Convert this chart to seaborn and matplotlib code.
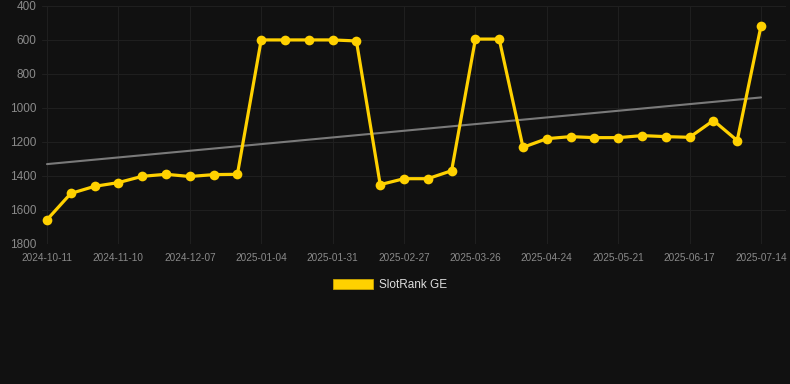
import numpy as np
import pandas as pd
import matplotlib
matplotlib.use("Agg")
import matplotlib.pyplot as plt
from matplotlib.patches import Patch
import seaborn as sns

# rank per observation (lower is better, axis is inverted)
ranks = [1660, 1505, 1463, 1441, 1404, 1392, 1405, 1394, 1392,
         600, 600, 600, 600, 606,
         1453, 1418, 1418, 1371,
         595, 595,
         1233, 1182, 1170, 1176, 1176, 1164, 1170, 1174, 1075, 1193, 517]
tick_labels = ["2024-10-11", "2024-11-10", "2024-12-07", "2025-01-04",
               "2025-01-31", "2025-02-27", "2025-03-26", "2025-04-24",
               "2025-05-21", "2025-06-17", "2025-07-14"]
trend_ends = [1332, 939]
series_name = "SlotRank GE"

bg = "#111111"
grid_c = "#1f1f1f"
yellow = "#FFD100"

sns.set_theme(style="dark")
plt.rcParams["font.family"] = ["Liberation Sans", "DejaVu Sans"]

df = pd.DataFrame({"pos": np.arange(len(ranks)), "rank": ranks})
trend = pd.DataFrame({"pos": [0, len(ranks) - 1], "rank": trend_ends})

fig = plt.figure(figsize=(7.9, 3.84), dpi=100, facecolor=bg)
ax = fig.add_axes([42 / 790, 1 - 243.5 / 384, (786 - 42) / 790, (243.5 - 6) / 384])
ax.set_facecolor(bg)

sns.lineplot(data=trend, x="pos", y="rank", ax=ax, color="#7a7a7a",
             linewidth=1.5, zorder=2)
sns.lineplot(data=df, x="pos", y="rank", ax=ax, color=yellow, linewidth=2.3,
             marker="o", markersize=7, markeredgewidth=0,
             markeredgecolor=yellow, zorder=3)

ax.set_ylim(1800, 400)
ax.set_yticks(range(400, 1801, 200))
ax.set_xlim(-0.21, len(ranks) - 1 + 1.05)
ax.set_xticks(range(0, len(ranks), 3))
ax.set_xticklabels(tick_labels)
ax.set_xlabel("")
ax.set_ylabel("")

ax.grid(True, color=grid_c, linewidth=0.8)
for s in ax.spines.values():
    s.set_visible(False)
ax.tick_params(axis="x", length=5, color=grid_c, labelsize=7.2,
               labelcolor="#8a8a8a", pad=2)
ax.tick_params(axis="y", length=0, labelsize=8.5, labelcolor="#8a8a8a", pad=4)

handle = Patch(facecolor=yellow, edgecolor="#c9a400", linewidth=0.6)
leg = fig.legend(handles=[handle], labels=[series_name], loc="center",
                 bbox_to_anchor=(390 / 790, 1 - 285 / 384), frameon=False,
                 fontsize=8.5, handlelength=3.4, handleheight=1.0,
                 handletextpad=0.5)
for t in leg.get_texts():
    t.set_color("#dddddd")

fig.savefig("out.png", dpi=100, facecolor=bg)
